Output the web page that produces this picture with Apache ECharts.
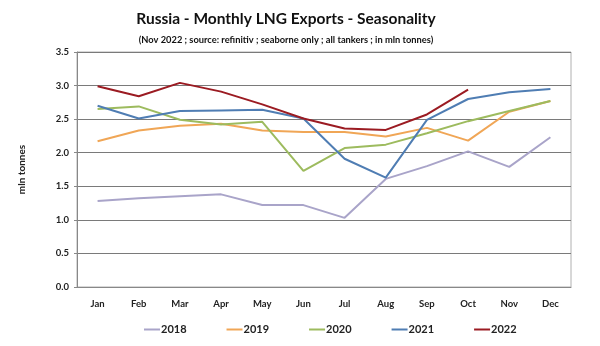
<!DOCTYPE html>
<html><head><meta charset="utf-8">
<script src="https://cdn.jsdelivr.net/npm/echarts@6/dist/echarts.min.js"></script>
<style>html,body{margin:0;padding:0;background:#fff}#c{width:600px;height:346px}</style>
</head><body><div id="c"></div>
<script>
const months = ['Jan','Feb','Mar','Apr','May','Jun','Jul','Aug','Sep','Oct','Nov','Dec'];
const y2018 = [1.28,1.32,1.35,1.38,1.22,1.22,1.03,1.61,1.80,2.02,1.79,2.23];
const y2019 = [2.17,2.33,2.40,2.43,2.33,2.31,2.31,2.24,2.37,2.18,2.61,2.77];
const y2020 = [2.65,2.69,2.49,2.42,2.46,1.73,2.07,2.12,2.29,2.47,2.62,2.77];
const y2021 = [2.70,2.51,2.62,2.63,2.64,2.51,1.91,1.63,2.49,2.80,2.90,2.95];
const y2022 = [2.99,2.84,3.04,2.91,2.72,2.51,2.36,2.34,2.57,2.94];
const seriesNames = ['2018','2019','2020','2021','2022'];
const colors = ['#A9A4C9','#F0A656','#9DBB5E','#4F7DB3','#9B1B22'];
const data = [y2018,y2019,y2020,y2021,y2022];
const F = 'Lato, "Open Sans", sans-serif';
const chart = echarts.init(document.getElementById('c'));
chart.setOption({
  animation:false,
  title:[{text:'Russia - Monthly LNG Exports - Seasonality',left:281,textAlign:'center',top:6,
    textStyle:{fontFamily:F,fontSize:15.5,fontWeight:'bold',color:'#111'}},
    {text:'(Nov 2022 ; source: refinitiv ; seaborne only ; all tankers ; in mln tonnes)',left:281,textAlign:'center',top:30,
    textStyle:{fontFamily:F,fontSize:9.3,fontWeight:'bold',color:'#111'}}],
  legend:{bottom:6,left:139,itemGap:40,itemWidth:16,itemHeight:2,icon:'rect',
    textStyle:{fontFamily:F,fontSize:11,fontWeight:'bold',color:'#222',padding:[0,0,0,-4]}},
  grid:{left:77,right:29,top:52,bottom:59,show:true,borderColor:'#b0b0b0',borderWidth:1},
  xAxis:{type:'category',data:months,boundaryGap:true,
    axisLine:{lineStyle:{color:'#888'}},axisTick:{show:false},
    axisLabel:{fontFamily:F,fontSize:9.5,fontWeight:'bold',color:'#222',margin:12}},
  yAxis:{type:'value',min:0,max:3.5,interval:0.5,name:'mln tonnes',nameLocation:'middle',nameGap:50,
    nameTextStyle:{fontFamily:F,fontSize:10,fontWeight:'bold',color:'#222'},
    axisLine:{show:true,lineStyle:{color:'#888'}},axisTick:{show:true,length:3,lineStyle:{color:'#888'}},
    axisLabel:{fontFamily:F,fontSize:9.5,fontWeight:'bold',color:'#222',margin:8,formatter:v=>v.toFixed(1)},
    splitLine:{lineStyle:{color:'#7a7a7a',width:1}}},
  series:seriesNames.map((n,i)=>({name:n,type:'line',data:data[i],showSymbol:false,symbol:'none',
    color:colors[i],lineStyle:{width:2,color:colors[i]}}))
});
</script></body></html>
